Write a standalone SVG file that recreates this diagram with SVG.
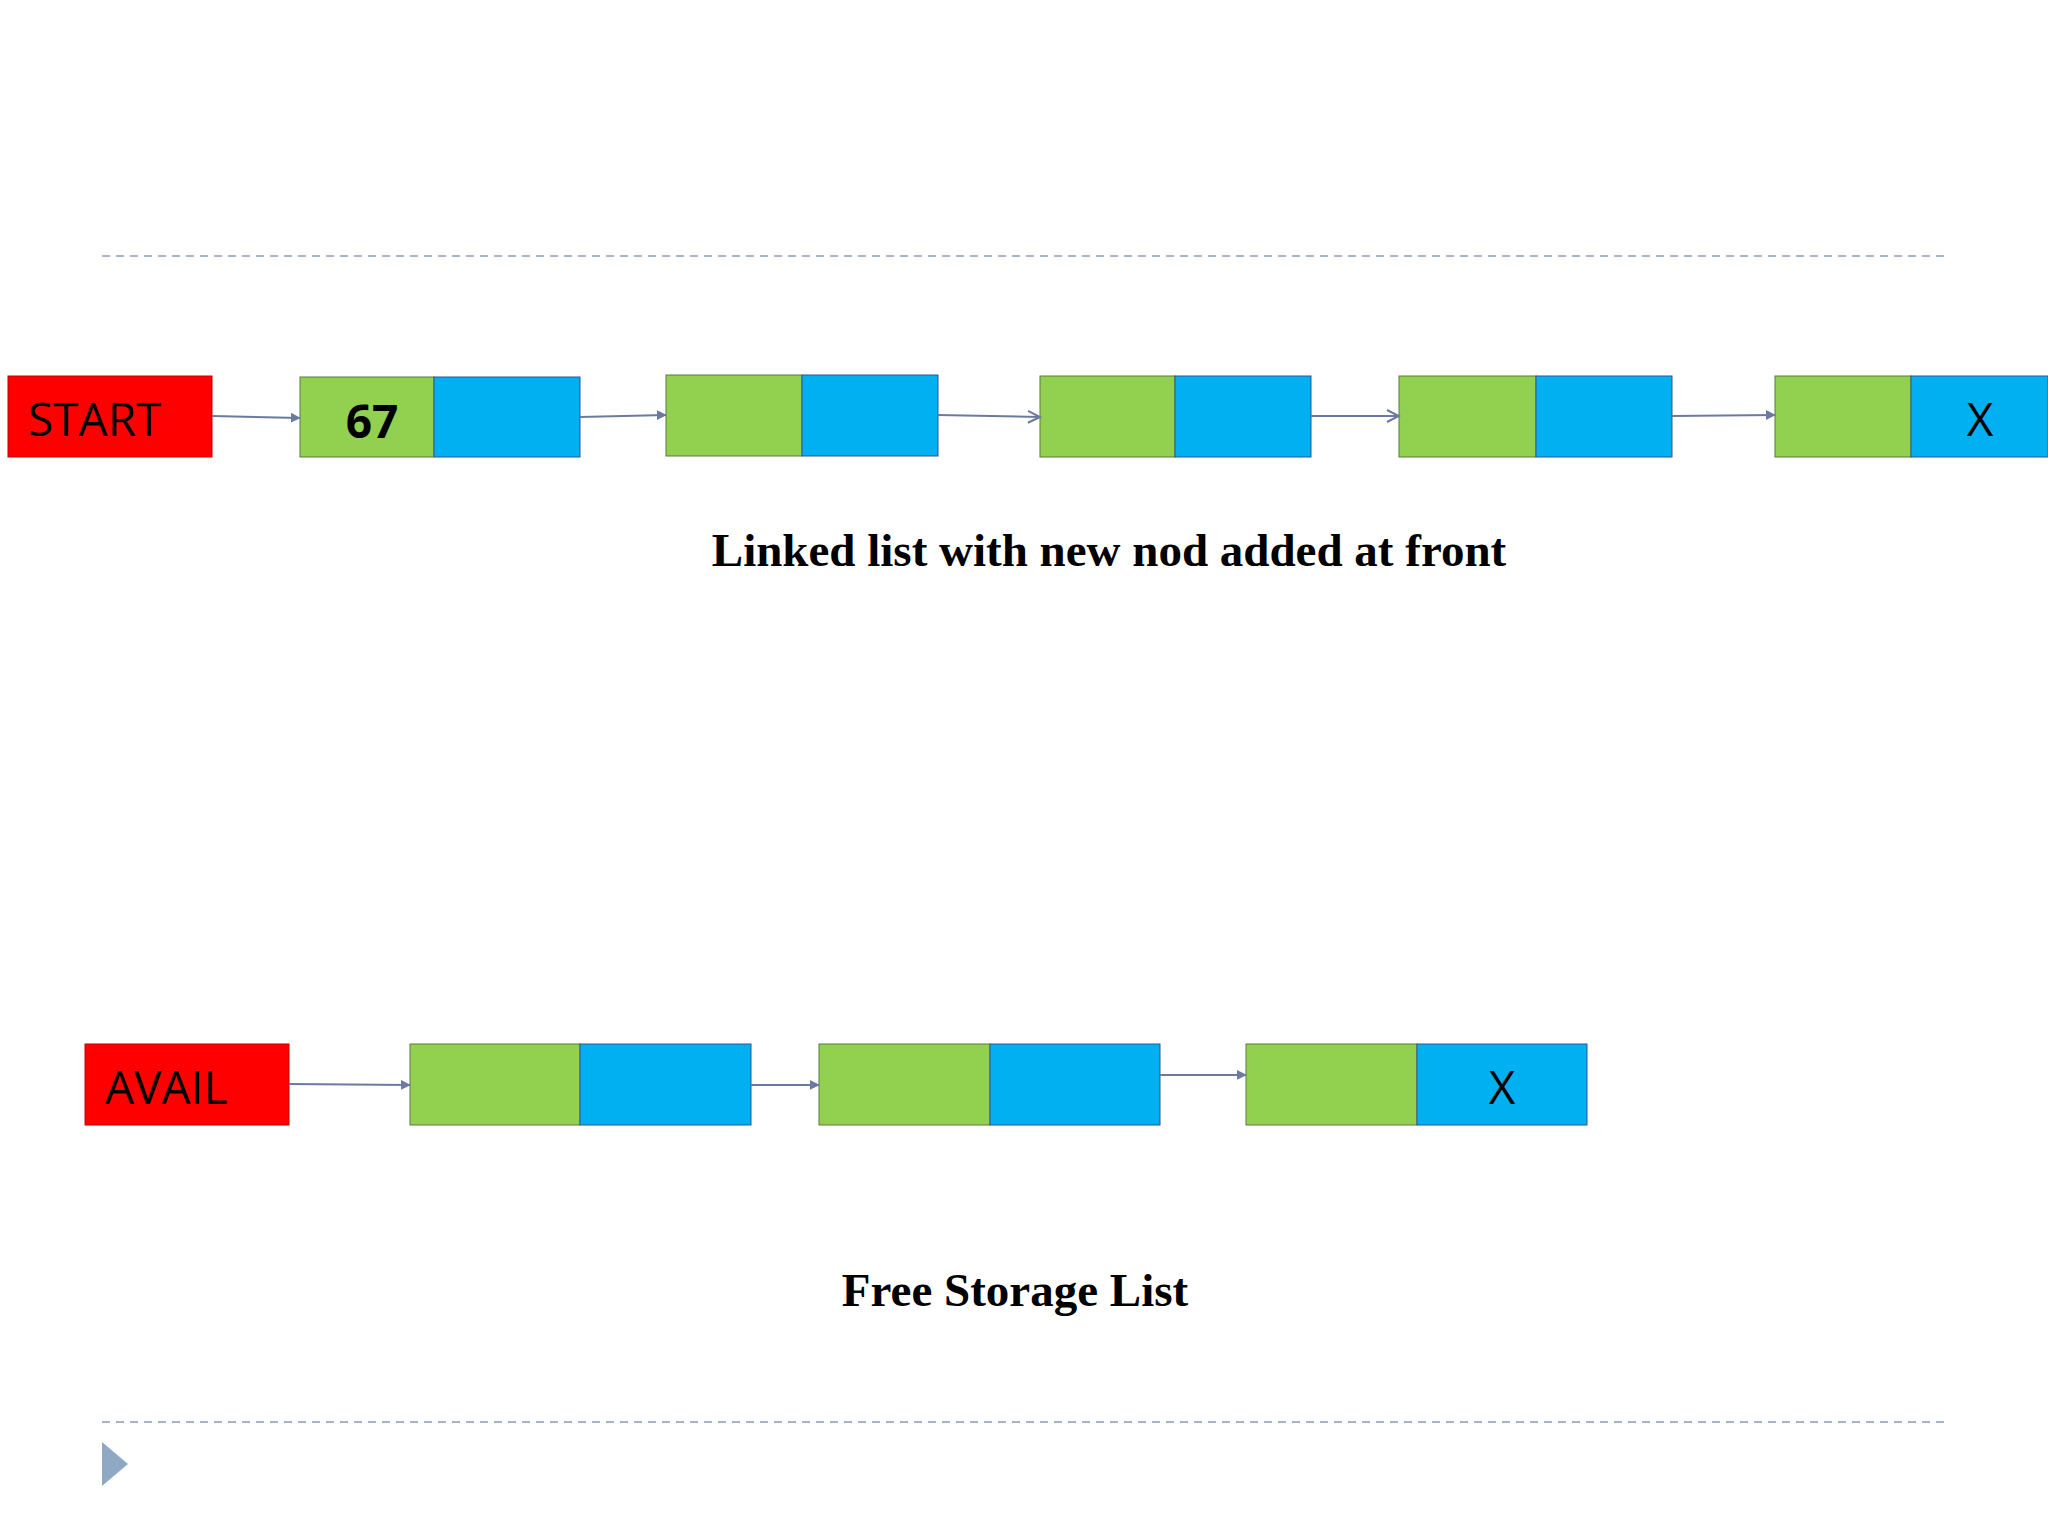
<svg xmlns="http://www.w3.org/2000/svg" width="2048" height="1536" viewBox="0 0 2048 1536">
<style>
.g{fill:#92d050;stroke:#5a7a3a;stroke-width:1}
.b{fill:#00b0f0;stroke:#2f5597;stroke-width:1}
.r{fill:#ff0000;stroke:#c00000;stroke-width:1}
.lbl{font-family:"Open Sans","DejaVu Sans",sans-serif;font-size:46px;fill:#000}
.cap{font-family:"Liberation Serif",serif;font-weight:bold;font-size:47px;fill:#000;text-anchor:middle}
.c{stroke:#6b7aa1;stroke-width:2;fill:none}
.d{stroke:#a6b6c8;stroke-width:2;stroke-dasharray:8 6}
</style>
<defs>
<marker id="a" markerWidth="10" markerHeight="10" refX="9" refY="5" orient="auto" markerUnits="userSpaceOnUse" viewBox="0 0 10 10"><path d="M0,0 L10,5 L0,10 z" fill="#6b7aa1" transform="scale(1.4) translate(-3,-1.5)"/></marker>
<marker id="o" markerWidth="16" markerHeight="16" refX="14" refY="8" orient="auto" markerUnits="userSpaceOnUse"><path d="M2,2 L14,8 L2,14" fill="none" stroke="#6b7aa1" stroke-width="2"/></marker>
</defs>
<rect width="2048" height="1536" fill="#fff"/>
<line class="d" x1="102" y1="256" x2="1946" y2="256"/>
<line class="d" x1="102" y1="1422" x2="1946" y2="1422"/>
<g id="start"><rect class="r" x="8" y="376" width="204" height="81"/><text class="lbl" x="28" y="436">START</text></g>
<g id="n1"><rect class="g" x="300" y="377" width="134" height="80"/><rect class="b" x="434" y="377" width="146" height="80"/><text x="372" y="438" text-anchor="middle" style="font-family:'Open Sans',sans-serif;font-weight:bold;font-size:46px">67</text></g>
<g id="n2"><rect class="g" x="666" y="375" width="136" height="81"/><rect class="b" x="802" y="375" width="136" height="81"/></g>
<g id="n3"><rect class="g" x="1040" y="376" width="135" height="81"/><rect class="b" x="1175" y="376" width="136" height="81"/></g>
<g id="n4"><rect class="g" x="1399" y="376" width="137" height="81"/><rect class="b" x="1536" y="376" width="136" height="81"/></g>
<g id="n5"><rect class="g" x="1775" y="376" width="136" height="81"/><rect class="b" x="1911" y="376" width="137" height="81"/><text class="lbl" x="1980" y="436" text-anchor="middle">X</text></g>
<text class="cap" x="1109" y="566">Linked list with new nod added at front</text>
<g id="avail"><rect class="r" x="85" y="1044" width="204" height="81"/><text class="lbl" x="105" y="1104">AVAIL</text></g>
<g id="f1"><rect class="g" x="410" y="1044" width="170" height="81"/><rect class="b" x="580" y="1044" width="171" height="81"/></g>
<g id="f2"><rect class="g" x="819" y="1044" width="171" height="81"/><rect class="b" x="990" y="1044" width="170" height="81"/></g>
<g id="f3"><rect class="g" x="1246" y="1044" width="171" height="81"/><rect class="b" x="1417" y="1044" width="170" height="81"/><text class="lbl" x="1502" y="1104" text-anchor="middle">X</text></g>
<text class="cap" x="1015" y="1306">Free Storage List</text>
<g id="connectors">
<line class="c" x1="212" y1="416" x2="300" y2="418" marker-end="url(#a)"/>
<line class="c" x1="580" y1="417" x2="666" y2="415" marker-end="url(#a)"/>
<line class="c" x1="938" y1="415" x2="1040" y2="417" marker-end="url(#o)"/>
<line class="c" x1="1311" y1="416" x2="1399" y2="416" marker-end="url(#o)"/>
<line class="c" x1="1672" y1="416" x2="1775" y2="415" marker-end="url(#a)"/>
<line class="c" x1="289" y1="1084" x2="410" y2="1085" marker-end="url(#a)"/>
<line class="c" x1="751" y1="1085" x2="819" y2="1085" marker-end="url(#a)"/>
<line class="c" x1="1160" y1="1075" x2="1246" y2="1075" marker-end="url(#a)"/>
</g>
<path d="M102,1442 L128,1464 L102,1486 z" fill="#8fa9c4"/>
</svg>
